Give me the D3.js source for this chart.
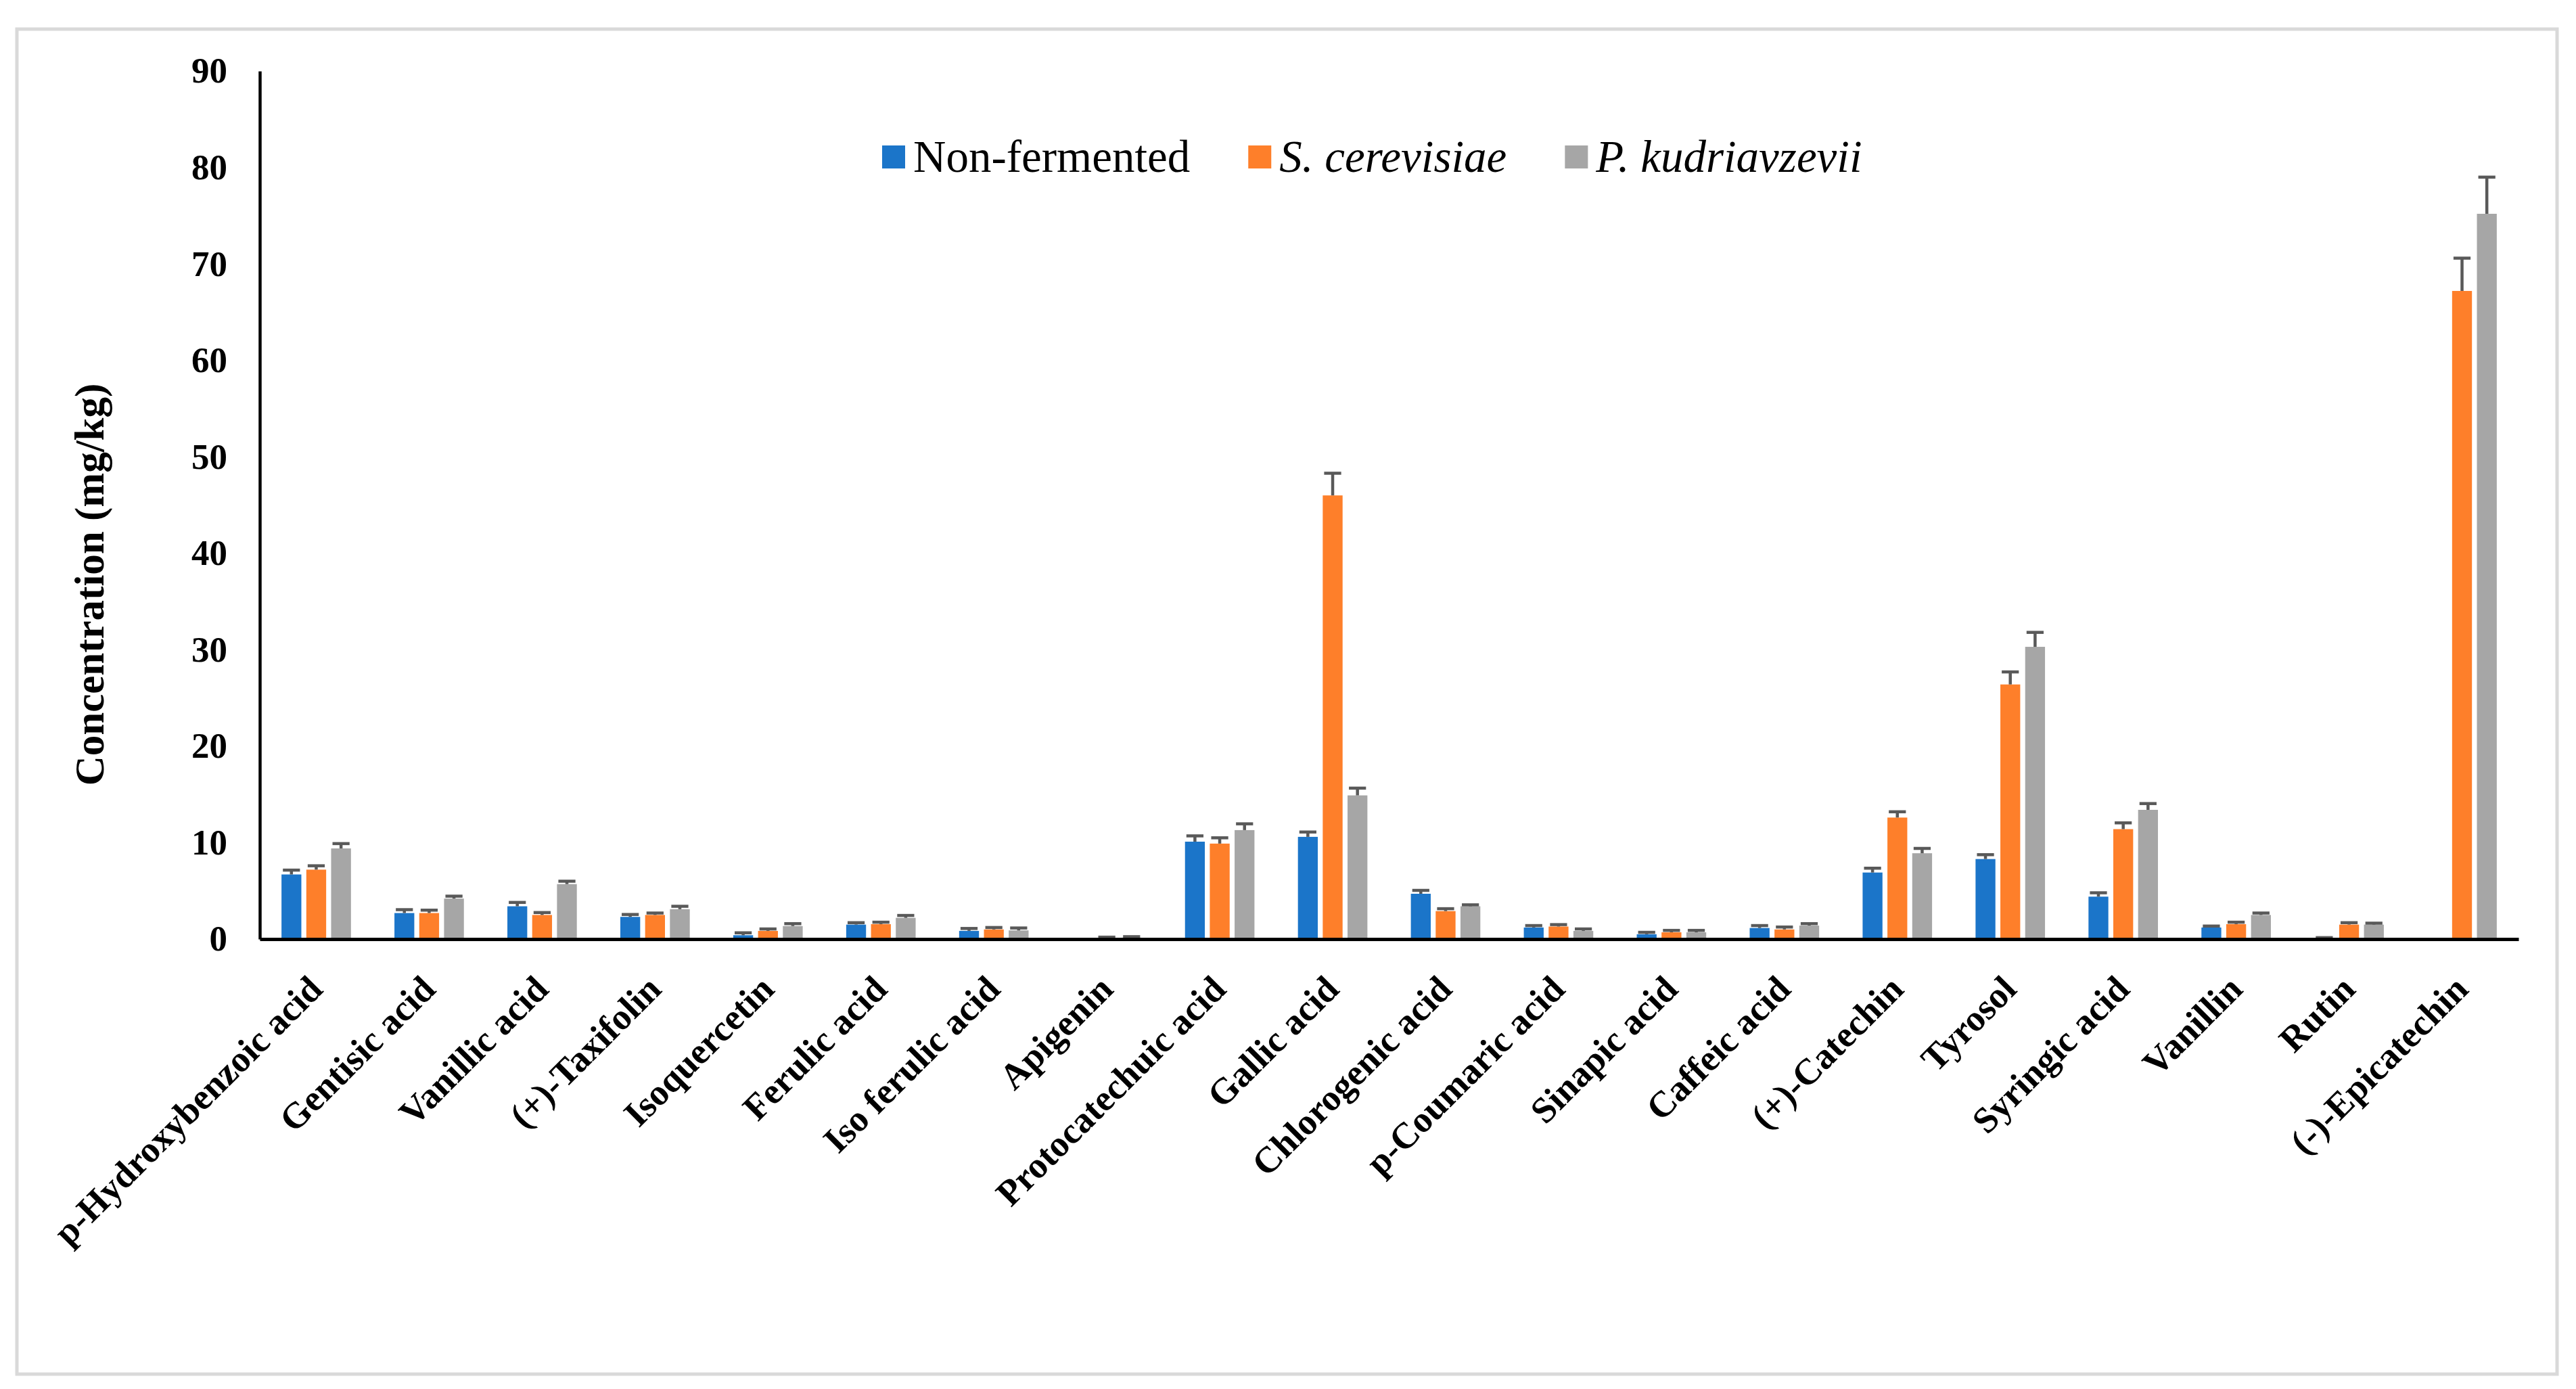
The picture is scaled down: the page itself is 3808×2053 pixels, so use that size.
<!DOCTYPE html>
<html>
  <head>
    <meta charset="utf-8">
    <title>Phenolic compounds</title>
    <script src="https://d3js.org/d3.v7.min.js"></script>
    <style>
      body { margin: 0; background: #fff; }
      text { font-family: "Liberation Serif", "Times New Roman", serif; }
    </style>
  </head>
  <body>
    <div id="chart"></div>
    <script>
      // Compounds on the x axis
      const compounds = [
        "p-Hydroxybenzoic acid", "Gentisic acid", "Vanillic acid", "(+)-Taxifolin",
        "Isoquercetin", "Ferulic acid", "Iso ferulic acid", "Apigenin",
        "Protocatechuic acid", "Gallic acid", "Chlorogenic acid", "p-Coumaric acid",
        "Sinapic acid", "Caffeic acid", "(+)-Catechin", "Tyrosol",
        "Syringic acid", "Vanillin", "Rutin", "(-)-Epicatechin"
      ];

      const seriesNames = ["Non-fermented", "S. cerevisiae", "P. kudriavzevii"];

      // Mean concentrations (mg/kg)
      const nonFermented = [6.7, 2.7, 3.4, 2.3, 0.4, 1.5, 0.85, 0, 10.1, 10.6, 4.7, 1.2, 0.5, 1.15, 6.9, 8.3, 4.4, 1.2, 0.05, 0];
      const sCerevisiae  = [7.2, 2.7, 2.5, 2.5, 0.85, 1.55, 1.0, 0.1, 9.9, 46.0, 2.9, 1.3, 0.7, 1.0, 12.6, 26.4, 11.4, 1.55, 1.5, 67.2];
      const pKudriavzevii = [9.4, 4.2, 5.7, 3.1, 1.35, 2.2, 0.9, 0.15, 11.3, 14.9, 3.4, 0.85, 0.7, 1.4, 8.9, 30.3, 13.4, 2.5, 1.5, 75.2];

      // Error (plus side only is drawn)
      const nonFermentedErr = [0.45, 0.35, 0.4, 0.25, 0.25, 0.2, 0.25, 0, 0.6, 0.5, 0.35, 0.2, 0.2, 0.25, 0.45, 0.45, 0.4, 0.15, 0.1, 0];
      const sCerevisiaeErr  = [0.4, 0.3, 0.25, 0.2, 0.2, 0.2, 0.2, 0.1, 0.6, 2.3, 0.25, 0.2, 0.2, 0.25, 0.6, 1.3, 0.65, 0.2, 0.2, 3.4];
      const pKudriavzeviiErr = [0.5, 0.25, 0.3, 0.3, 0.25, 0.25, 0.25, 0.1, 0.65, 0.75, 0.15, 0.2, 0.2, 0.2, 0.5, 1.5, 0.65, 0.2, 0.15, 3.8];

      const yTicks = [0, 10, 20, 30, 40, 50, 60, 70, 80, 90];

      const colors = ["#1b75c9", "#fe7f2a", "#a6a6a6"];
      const italic = [false, true, true];

      const width = 3808;
      const height = 2053;
      const plot = { left: 384, right: 3723, top: 105, bottom: 1388 };

      const values = [nonFermented, sCerevisiae, pKudriavzevii];
      const errors = [nonFermentedErr, sCerevisiaeErr, pKudriavzeviiErr];

      // flatten into rows for drawing
      const rows = [];
      compounds.forEach(function(c, i) {
        seriesNames.forEach(function(s, j) {
          rows.push({ compound: c, series: s, idx: j, value: values[j][i], err: errors[j][i] });
        });
      });

      const svg = d3.select("#chart")
        .append("svg")
        .attr("width", width)
        .attr("height", height);

      svg.append("rect")
        .attr("width", width)
        .attr("height", height)
        .attr("fill", "#fff");

      // light frame round the chart area
      svg.append("rect")
        .attr("x", 25)
        .attr("y", 43)
        .attr("width", 3780 - 25)
        .attr("height", 2031 - 43)
        .attr("fill", "none")
        .attr("stroke", "#d9d9d9")
        .attr("stroke-width", 5);

      const x0 = d3.scaleBand()
        .domain(compounds)
        .range([plot.left, plot.right])
        .paddingInner(0.385)
        .paddingOuter(0.1925);

      const x1 = d3.scaleBand()
        .domain(seriesNames)
        .range([0, x0.bandwidth()])
        .paddingInner(0.2);

      const y = d3.scaleLinear()
        .domain([0, 90])
        .range([plot.bottom, plot.top]);

      // bars
      svg.append("g")
        .selectAll("rect")
        .data(rows.filter(d => d.value > 0))
        .enter()
        .append("rect")
        .attr("x", d => x0(d.compound) + x1(d.series))
        .attr("y", d => y(d.value))
        .attr("width", x1.bandwidth())
        .attr("height", d => y(0) - y(d.value))
        .attr("fill", d => colors[d.idx]);

      // error bars
      const errGroup = svg.append("g")
        .attr("stroke", "#595959")
        .attr("stroke-width", 4.5);

      const withErr = rows.filter(d => d.err > 0);
      const capW = x1.bandwidth() * 0.86;

      errGroup.selectAll("line.stem")
        .data(withErr)
        .enter()
        .append("line")
        .attr("class", "stem")
        .attr("x1", d => x0(d.compound) + x1(d.series) + x1.bandwidth() / 2)
        .attr("x2", d => x0(d.compound) + x1(d.series) + x1.bandwidth() / 2)
        .attr("y1", d => y(d.value))
        .attr("y2", d => y(d.value + d.err));

      errGroup.selectAll("line.cap")
        .data(withErr)
        .enter()
        .append("line")
        .attr("class", "cap")
        .attr("x1", d => x0(d.compound) + x1(d.series) + x1.bandwidth() / 2 - capW / 2)
        .attr("x2", d => x0(d.compound) + x1(d.series) + x1.bandwidth() / 2 + capW / 2)
        .attr("y1", d => y(d.value + d.err))
        .attr("y2", d => y(d.value + d.err));

      // y axis
      const yAxis = svg.append("g")
        .attr("transform", "translate(" + plot.left + ",0)")
        .call(d3.axisLeft(y).tickValues(yTicks).tickSize(0).tickPadding(48));

      yAxis.select(".domain")
        .attr("stroke", "#000")
        .attr("stroke-width", 4.5);

      yAxis.selectAll("text")
        .attr("font-family", "Liberation Serif")
        .attr("font-weight", "bold")
        .attr("font-size", 53)
        .attr("fill", "#000");

      // x axis
      const xAxis = svg.append("g")
        .attr("transform", "translate(0," + plot.bottom + ")")
        .call(d3.axisBottom(x0).tickSize(0).tickFormat(""));

      xAxis.select(".domain")
        .attr("stroke", "#000")
        .attr("stroke-width", 5);

      svg.append("g")
        .selectAll("text")
        .data(compounds)
        .enter()
        .append("text")
        .attr("transform", d => "translate(" + (x0(d) + x0.bandwidth() / 2 + 12) + "," + (plot.bottom + 77) + ") rotate(-45)")
        .attr("text-anchor", "end")
        .attr("font-weight", "bold")
        .attr("font-size", 54)
        .attr("fill", "#000")
        .text(d => d);

      // y axis title
      svg.append("text")
        .attr("transform", "translate(153,864) rotate(-90)")
        .attr("text-anchor", "middle")
        .attr("font-weight", "bold")
        .attr("font-size", 61)
        .attr("fill", "#000")
        .text("Concentration (mg/kg)");

      // legend
      const legend = svg.append("g");
      let lx = 1304;
      seriesNames.forEach(function(s, j) {
        legend.append("rect")
          .attr("x", lx)
          .attr("y", 215)
          .attr("width", 34)
          .attr("height", 34)
          .attr("fill", colors[j]);
        const t = legend.append("text")
          .attr("x", lx + 46)
          .attr("y", 254)
          .attr("font-size", 67)
          .attr("font-style", italic[j] ? "italic" : "normal")
          .attr("fill", "#000")
          .text(s);
        lx = lx + 46 + t.node().getComputedTextLength() + 86;
      });
    </script>
  </body>
</html>
